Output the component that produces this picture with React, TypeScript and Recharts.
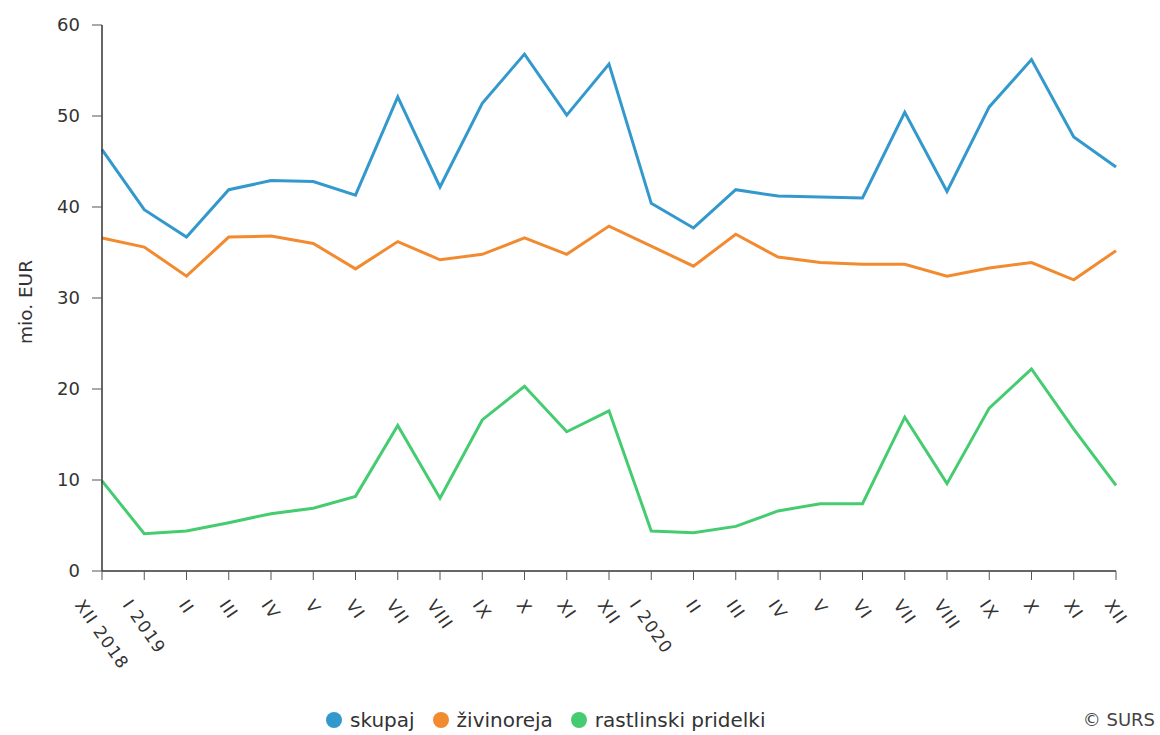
import { LineChart, Line, XAxis, YAxis } from "recharts";

const months = [
  "XII 2018", "I 2019", "II", "III", "IV", "V", "VI", "VII", "VIII", "IX", "X", "XI", "XII",
  "I 2020", "II", "III", "IV", "V", "VI", "VII", "VIII", "IX", "X", "XI", "XII",
];
const skupaj = [
  46.3, 39.7, 36.7, 41.9, 42.9, 42.8, 41.3, 52.1, 42.2, 51.4, 56.8, 50.1, 55.7,
  40.4, 37.7, 41.9, 41.2, 41.1, 41.0, 50.4, 41.7, 51.0, 56.2, 47.7, 44.4,
];
const zivinoreja = [
  36.6, 35.6, 32.4, 36.7, 36.8, 36.0, 33.2, 36.2, 34.2, 34.8, 36.6, 34.8, 37.9,
  35.7, 33.5, 37.0, 34.5, 33.9, 33.7, 33.7, 32.4, 33.3, 33.9, 32.0, 35.2,
];
const rastlinski = [
  9.9, 4.1, 4.4, 5.3, 6.3, 6.9, 8.2, 16.0, 8.0, 16.6, 20.3, 15.3, 17.6,
  4.4, 4.2, 4.9, 6.6, 7.4, 7.4, 16.9, 9.6, 17.9, 22.2, 15.6, 9.4,
];
const yTicks = [0, 10, 20, 30, 40, 50, 60];

const series = [
  { key: "skupaj", name: "skupaj", color: "#3399cc" },
  { key: "zivinoreja", name: "živinoreja", color: "#f28a30" },
  { key: "rastlinski", name: "rastlinski pridelki", color: "#45cc70" },
];

const data = months.map((month, i) => ({
  month,
  skupaj: skupaj[i],
  zivinoreja: zivinoreja[i],
  rastlinski: rastlinski[i],
}));

const FONT = "'DejaVu Sans', Verdana, sans-serif";
const TICK_FS = 17;
const TICK_LS = 1.2;
const ANGLE = 55;

// rough DejaVu Sans advance widths (em)
const CHAR_W: Record<string, number> = { X: 0.685, I: 0.295, V: 0.684, " ": 0.318 };
function textWidth(s: string) {
  let w = 0;
  for (const ch of s) w += (CHAR_W[ch] ?? 0.636) * TICK_FS + TICK_LS;
  return w - TICK_LS;
}

function XTick(props: any) {
  const { x, y, payload } = props;
  const label = String(payload.value);
  const rad = (ANGLE * Math.PI) / 180;
  const c = Math.cos(rad);
  const s = Math.sin(rad);
  const asc = 0.73 * TICK_FS;
  const L = textWidth(label);
  const px = x - (c * L + s * asc) / 2;
  const py = y + 16 + c * asc;
  return (
    <text
      x={px}
      y={py}
      transform={`rotate(${ANGLE} ${px} ${py})`}
      textAnchor="start"
      fill="#333"
      fontSize={TICK_FS}
      fontFamily={FONT}
      letterSpacing={TICK_LS}
    >
      {label}
    </text>
  );
}

function YTitle(props: any) {
  const vb = props.viewBox;
  const cy = vb.y + vb.height / 2 + 4;
  return (
    <text
      x={25}
      y={cy}
      transform={`rotate(-90 25 ${cy})`}
      textAnchor="middle"
      dominantBaseline="central"
      fill="#333"
      fontSize={18.5}
      fontFamily={FONT}
    >
      mio. EUR
    </text>
  );
}

export default function App() {
  return (
    <div style={{ position: "absolute", left: 0, top: 0, width: 1160, height: 735, background: "#fff", fontFamily: FONT }}>
      <LineChart width={1160} height={735} data={data} margin={{ top: 25, right: 44, left: 0, bottom: 64 }}>
        <XAxis
          dataKey="month"
          interval={0}
          height={100}
          tick={<XTick />}
          tickSize={9}
          tickLine={{ stroke: "#555" }}
          axisLine={{ stroke: "#333", strokeWidth: 1.5 }}
          padding={{ left: 0, right: 0 }}
        />
        <YAxis
          width={102}
          domain={[0, 60]}
          ticks={yTicks}
          interval={0}
          tickSize={10}
          tickMargin={12}
          tick={{ fill: "#333", fontSize: 18, fontFamily: FONT }}
          tickLine={{ stroke: "#555" }}
          axisLine={{ stroke: "#333", strokeWidth: 1.5 }}
          label={<YTitle />}
        />
        {series.map((s) => (
          <Line
            key={s.key}
            type="linear"
            dataKey={s.key}
            name={s.name}
            stroke={s.color}
            strokeWidth={3}
            dot={false}
            activeDot={false}
            isAnimationActive={false}
          />
        ))}
      </LineChart>
      <div
        style={{
          position: "absolute",
          left: 326,
          top: 708,
          display: "flex",
          alignItems: "center",
          fontSize: 20,
          color: "#333",
          whiteSpace: "nowrap",
        }}
      >
        {series.map((s) => (
          <div key={s.key} style={{ display: "flex", alignItems: "center", marginRight: 18 }}>
            <span
              style={{
                width: 16,
                height: 16,
                borderRadius: "50%",
                background: s.color,
                display: "inline-block",
                marginRight: 8,
              }}
            />
            <span>{s.name}</span>
          </div>
        ))}
      </div>
      <div style={{ position: "absolute", right: 5, top: 709, fontSize: 18, color: "#444" }}>© SURS</div>
    </div>
  );
}
